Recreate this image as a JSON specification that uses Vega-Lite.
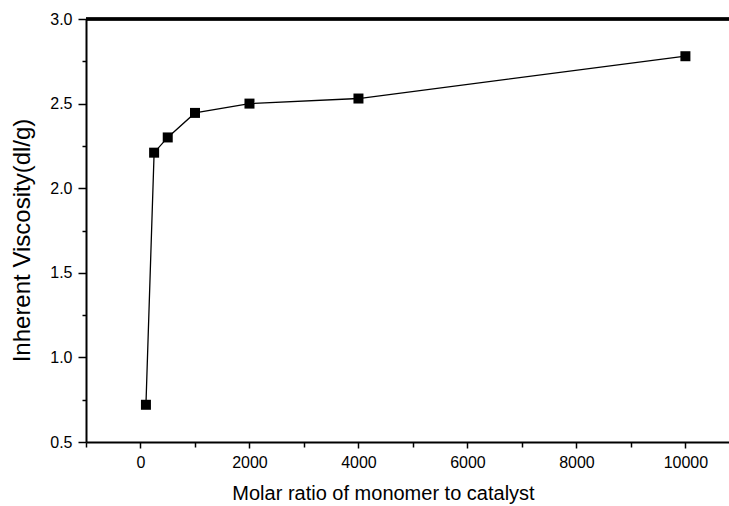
{
  "$schema": "https://vega.github.io/schema/vega-lite/v6.json",
  "width": 643,
  "height": 423,
  "autosize": "none",
  "padding": {"left": 86, "top": 19, "right": 0, "bottom": 64},
  "config": {
    "view": {"stroke": null},
    "font": "Liberation Sans"
  },
  "data": {
    "values": [
      {"ratio": 100, "viscosity": 0.72},
      {"ratio": 250, "viscosity": 2.21},
      {"ratio": 500, "viscosity": 2.30},
      {"ratio": 1000, "viscosity": 2.445},
      {"ratio": 2000, "viscosity": 2.50},
      {"ratio": 4000, "viscosity": 2.53},
      {"ratio": 10000, "viscosity": 2.78}
    ]
  },
  "encoding": {
    "x": {
      "field": "ratio",
      "type": "quantitative",
      "scale": {"domain": [-1000, 10800], "nice": false, "zero": false},
      "axis": {
        "title": "Molar ratio of monomer to catalyst",
        "values": [-1000, 0, 1000, 2000, 3000, 4000, 5000, 6000, 7000, 8000, 9000, 10000],
        "labelExpr": "datum.value % 2000 === 0 ? format(datum.value, 'd') : ''",
        "tickSize": {"condition": {"test": "datum.value % 2000 === 0", "value": 6}, "value": 5},
        "grid": false,
        "domainColor": "black",
        "domainWidth": 2,
        "tickColor": "black",
        "tickWidth": 1.5,
        "labelColor": "black",
        "labelFontSize": 16,
        "labelFontWeight": "normal",
        "labelPadding": 6,
        "titleFontSize": 20,
        "titleFontWeight": "normal",
        "titleColor": "black",
        "titlePadding": 13,
        "titleX": 297
      }
    },
    "y": {
      "field": "viscosity",
      "type": "quantitative",
      "scale": {"domain": [0.5, 3.0], "nice": false, "zero": false},
      "axis": {
        "title": "Inherent Viscosity(dl/g)",
        "values": [0.5, 0.75, 1.0, 1.25, 1.5, 1.75, 2.0, 2.25, 2.5, 2.75, 3.0],
        "labelExpr": "round(datum.value * 2) === datum.value * 2 ? format(datum.value, '.1f') : ''",
        "tickSize": {"condition": {"test": "round(datum.value * 2) === datum.value * 2", "value": 8}, "value": 4},
        "grid": false,
        "domainColor": "black",
        "domainWidth": 2,
        "tickColor": "black",
        "tickWidth": 1.5,
        "labelColor": "black",
        "labelFontSize": 16,
        "labelFontWeight": "normal",
        "labelPadding": 6,
        "titleFontSize": 24,
        "titleFontWeight": "normal",
        "titleColor": "black",
        "titlePadding": 15,
        "titleY": 221
      }
    }
  },
  "layer": [
    {
      "mark": {"type": "rule", "color": "black", "strokeWidth": 2.5},
      "encoding": {"y": {"datum": 3.0}, "x": null}
    },
    {
      "mark": {"type": "line", "color": "black", "strokeWidth": 1.3}
    },
    {
      "mark": {"type": "point", "shape": "square", "filled": true, "color": "black", "size": 100, "opacity": 1}
    }
  ]
}
